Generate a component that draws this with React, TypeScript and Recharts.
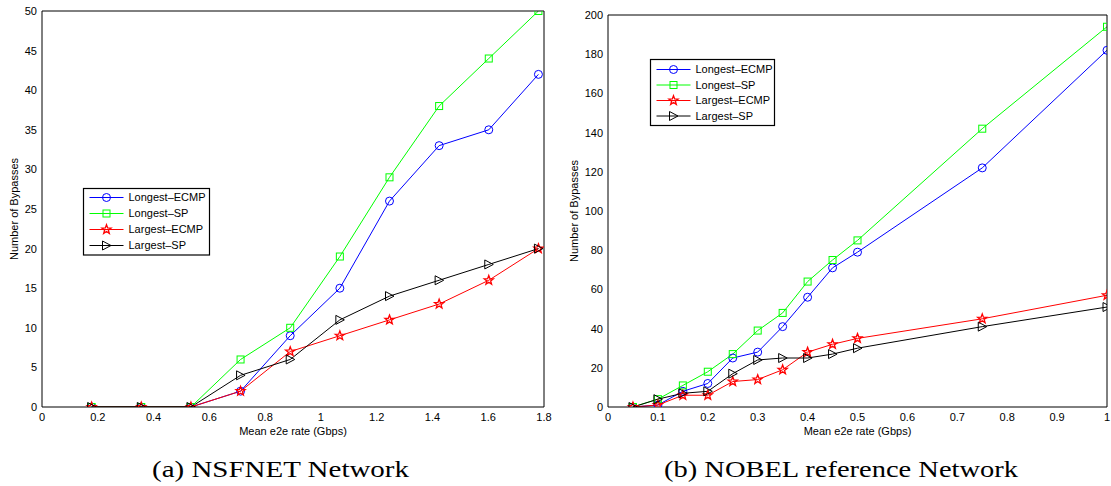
import { Line, LineChart, XAxis, YAxis } from "recharts";

// (a) NSFNET
const nsfRate = [0.178, 0.356, 0.534, 0.712, 0.89, 1.068, 1.246, 1.424, 1.602, 1.78];
const nsfLongestEcmp = [0, 0, 0, 2, 9, 15, 26, 33, 35, 42];
const nsfLongestSp = [0, 0, 0, 6, 10, 19, 29, 38, 44, 50];
const nsfLargestEcmp = [0, 0, 0, 2, 7, 9, 11, 13, 16, 20];
const nsfLargestSp = [0, 0, 0, 4, 6, 11, 14, 16, 18, 20];
const nsfXTicks = [0, 0.2, 0.4, 0.6, 0.8, 1, 1.2, 1.4, 1.6, 1.8];
const nsfYTicks = [0, 5, 10, 15, 20, 25, 30, 35, 40, 45, 50];

// (b) NOBEL reference
const nobelRate = [0.05, 0.1, 0.15, 0.2, 0.25, 0.3, 0.35, 0.4, 0.45, 0.5, 0.75, 1];
const nobelLongestEcmp = [0, 1, 8, 12, 25, 28, 41, 56, 71, 79, 122, 182];
const nobelLongestSp = [0, 4, 11, 18, 27, 39, 48, 64, 75, 85, 142, 194];
const nobelLargestEcmp = [0, 1, 6, 6, 13, 14, 19, 28, 32, 35, 45, 57];
const nobelLargestSp = [0, 4, 7, 8, 17, 24, 25, 25, 27, 30, 41, 51];
const nobelXTicks = [0, 0.1, 0.2, 0.3, 0.4, 0.5, 0.6, 0.7, 0.8, 0.9, 1];
const nobelYTicks = [0, 20, 40, 60, 80, 100, 120, 140, 160, 180, 200];

const seriesNames = ["Longest\u2013ECMP", "Longest\u2013SP", "Largest\u2013ECMP", "Largest\u2013SP"];
const seriesColors = ["#0000ff", "#00ff00", "#ff0000", "#000000"];
const seriesShapes = ["circle", "square", "star", "triangle"];

const xTitle = "Mean e2e rate (Gbps)";
const yTitle = "Number of Bypasses";
const captions = ["(a)  NSFNET Network", "(b)  NOBEL reference Network"];

const sans = "'Liberation Sans', Arial, sans-serif";

const Marker = ({shape, cx, cy, color}: any) => {
    if (shape === "circle") {
        return <circle cx={cx} cy={cy} r={4} fill="none" stroke={color} strokeWidth={1}/>;
    }
    if (shape === "square") {
        return <rect x={cx - 3.5} y={cy - 3.5} width={7} height={7} fill="none" stroke={color} strokeWidth={1}/>;
    }
    if (shape === "star") {
        const pts = [];
        for (let i = 0; i < 10; i++) {
            const r = i % 2 === 0 ? 4.8 : 2;
            const a = -Math.PI / 2 + (i * Math.PI) / 5;
            pts.push(`${cx + r * Math.cos(a)},${cy + r * Math.sin(a)}`);
        }
        return <polygon points={pts.join(" ")} fill="none" stroke={color} strokeWidth={1.3}/>;
    }
    return (
        <polygon
            points={`${cx + 4.5},${cy} ${cx - 4},${cy - 4.5} ${cx - 4},${cy + 4.5}`}
            fill="none"
            stroke={color}
            strokeWidth={1}
        />
    );
};

const Panel = ({left, width, top, yWidth, right, rate, series, xDomain, xTicks, yDomain, yTicks}: any) => {
    const rows = rate.map((x: number, i: number) => ({
        x,
        s0: series[0][i],
        s1: series[1][i],
        s2: series[2][i],
        s3: series[3][i],
    }));
    const tickStyle = {fontSize: 11, fill: "#000", fontFamily: sans};
    return (
        <div style={{position: "absolute", left, top: 0}}>
            <LineChart width={width} height={430} data={rows} margin={{top, right, bottom: 0, left: 0}}>
                <XAxis
                    dataKey="x"
                    type="number"
                    domain={xDomain}
                    ticks={xTicks}
                    interval={0}
                    height={23}
                    tickLine={false}
                    tickSize={0}
                    tickMargin={6}
                    tick={tickStyle}
                    axisLine={{stroke: "#000"}}
                    allowDataOverflow
                />
                <XAxis xAxisId="xb" type="number" orientation="bottom" mirror domain={xDomain} ticks={xTicks}
                       interval={0} tick={false} axisLine={false} tickSize={5} tickLine={{stroke: "#000"}}
                       allowDataOverflow/>
                <XAxis xAxisId="xt" type="number" orientation="top" mirror domain={xDomain} ticks={xTicks}
                       interval={0} tick={false} axisLine={{stroke: "#000"}} tickSize={5} tickLine={{stroke: "#000"}}
                       allowDataOverflow/>
                <YAxis
                    type="number"
                    domain={yDomain}
                    ticks={yTicks}
                    interval={0}
                    width={yWidth}
                    tickLine={false}
                    tickSize={0}
                    tickMargin={5}
                    tick={tickStyle}
                    axisLine={{stroke: "#000"}}
                    allowDataOverflow
                />
                <YAxis yAxisId="yl" type="number" orientation="left" mirror domain={yDomain} ticks={yTicks}
                       interval={0} tick={false} axisLine={false} tickSize={5} tickLine={{stroke: "#000"}}
                       allowDataOverflow/>
                <YAxis yAxisId="yr" type="number" orientation="right" mirror domain={yDomain} ticks={yTicks}
                       interval={0} tick={false} axisLine={{stroke: "#000"}} tickSize={5} tickLine={{stroke: "#000"}}
                       allowDataOverflow/>
                {seriesNames.map((name, k) => (
                    <Line
                        key={name}
                        type="linear"
                        dataKey={`s${k}`}
                        name={name}
                        stroke={seriesColors[k]}
                        strokeWidth={1}
                        isAnimationActive={false}
                        activeDot={false}
                        dot={(p: any) => (
                            <Marker key={`${name}-${p.index}`} shape={seriesShapes[k]} cx={p.cx} cy={p.cy}
                                    color={seriesColors[k]}/>
                        )}
                    />
                ))}
            </LineChart>
        </div>
    );
};

const LegendBox = ({x, y, w, h, rows}: any) => (
    <g>
        <rect x={x} y={y} width={w} height={h} fill="#fff" stroke="#000" strokeWidth={1.2}/>
        {seriesNames.map((name, k) => (
            <g key={name}>
                <line x1={x + 6} x2={x + 40} y1={rows[k]} y2={rows[k]} stroke={seriesColors[k]} strokeWidth={1}/>
                <Marker shape={seriesShapes[k]} cx={x + 23} cy={rows[k]} color={seriesColors[k]}/>
                <text x={x + 45} y={rows[k]} dy="0.35em" fontSize={11} fontFamily={sans} fill="#000">
                    {name}
                </text>
            </g>
        ))}
    </g>
);

const App = () => {
    return (
        <div style={{position: "absolute", left: 0, top: 0, width: 1111, height: 486, background: "#fff", overflow: "hidden"}}>
            <Panel
                left={0}
                width={560}
                top={11}
                yWidth={42}
                right={16}
                rate={nsfRate}
                series={[nsfLongestEcmp, nsfLongestSp, nsfLargestEcmp, nsfLargestSp]}
                xDomain={[0, 1.8]}
                xTicks={nsfXTicks}
                yDomain={[0, 50]}
                yTicks={nsfYTicks}
            />
            <Panel
                left={560}
                width={551}
                top={15}
                yWidth={48}
                right={4}
                rate={nobelRate}
                series={[nobelLongestEcmp, nobelLongestSp, nobelLargestEcmp, nobelLargestSp]}
                xDomain={[0, 1]}
                xTicks={nobelXTicks}
                yDomain={[0, 200]}
                yTicks={nobelYTicks}
            />
            <svg width={1111} height={486} style={{position: "absolute", left: 0, top: 0, pointerEvents: "none"}}>
                <LegendBox x={83.5} y={188.5} w={126} h={66.5} rows={[197.5, 213.5, 229.5, 245.5]}/>
                <LegendBox x={650.5} y={59.5} w={124} h={66} rows={[69.5, 85, 100.5, 116]}/>
                <text x={293} y={431} dy="0.35em" textAnchor="middle" fontSize={11} fontFamily={sans}>{xTitle}</text>
                <text x={857.5} y={431} dy="0.35em" textAnchor="middle" fontSize={11} fontFamily={sans}>{xTitle}</text>
                <text x={14} y={209} dy="0.35em" textAnchor="middle" fontSize={11} fontFamily={sans}
                      transform="rotate(-90, 14, 209)">{yTitle}</text>
                <text x={574} y={211} dy="0.35em" textAnchor="middle" fontSize={11} fontFamily={sans}
                      transform="rotate(-90, 574, 211)">{yTitle}</text>
                <text x={280.5} y={477} textAnchor="middle" fontSize={24} fontFamily="'Liberation Serif', serif"
                      textLength={257} lengthAdjust="spacingAndGlyphs">{captions[0]}</text>
                <text x={841} y={477} textAnchor="middle" fontSize={24} fontFamily="'Liberation Serif', serif"
                      textLength={354} lengthAdjust="spacingAndGlyphs">{captions[1]}</text>
            </svg>
        </div>
    );
};

export default App;
